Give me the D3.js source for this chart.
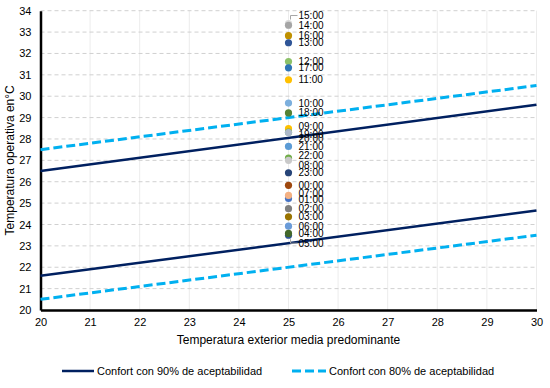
<!DOCTYPE html>
<html>
<head>
<meta charset="utf-8">
<script src="https://cdn.jsdelivr.net/npm/d3@7"></script>
<style>
  html, body { margin: 0; padding: 0; background: #fff; }
  svg { display: block; font-family: Arial, "Liberation Sans", sans-serif; }
</style>
</head>
<body>
<svg id="chart" width="550" height="388"></svg>
<script>
// ---- data ----
const xTicks = [20, 21, 22, 23, 24, 25, 26, 27, 28, 29, 30];
const yTicks = [20, 21, 22, 23, 24, 25, 26, 27, 28, 29, 30, 31, 32, 33, 34];

// comfort band lines (exterior temp -> operative temp)
const lineX = [20, 30];
const upper90 = [26.5, 29.6];
const lower90 = [21.6, 24.65];
const upper80 = [27.5, 30.5];
const lower80 = [20.5, 23.5];

// hourly points (all at the same exterior mean temperature)
const hourX = 25;
const hours = ["15:00","14:00","16:00","13:00","12:00","17:00","11:00","10:00","18:00",
               "09:00","20:00","19:00","21:00","22:00","08:00","23:00","00:00","01:00",
               "07:00","02:00","03:00","06:00","05:00","04:00"];
const hourTemps = [33.4, 33.32, 32.83, 32.5, 31.62, 31.33, 30.77, 29.68, 29.22,
                   28.48, 28.32, 28.3, 27.65, 27.1, 27.0, 26.42, 25.83, 25.22,
                   25.36, 24.74, 24.36, 23.92, 23.5, 23.58];
const hourColors = ["#D9D9D9","#A5A5A5","#BF9000","#2F5597","#8CC168","#2E75B6","#FFC000","#7CAFDD","#548235",
                    "#FFC000","#70AD47","#ADB9CA","#5B9BD5","#70AD47","#C9C9C9","#264478","#9E480E","#4472C4",
                    "#F4B183","#7F7F7F","#997300","#6A9BD8","#2F5597","#43682B"];
// small label nudges (px) to mimic the reference's label placement
const labelNudge = {"15:00": -8, "05:00": 8, "09:00": -2, "19:00": 1.5, "20:00": 6,
                    "22:00": -3, "08:00": 5, "07:00": -2, "01:00": 1};

const legendLabels = ["Confort con 90% de aceptabilidad", "Confort con 80% de aceptabilidad"];

// ---- layout ----
const svg = d3.select("#chart");
const m = {left: 40.5, right: 536.5, top: 10.7, bottom: 310};
const x = d3.scaleLinear().domain([20, 30]).range([m.left, m.right]);
const y = d3.scaleLinear().domain([20, 34]).range([m.bottom, m.top]);

// vertical grid
svg.append("g").selectAll("line").data(xTicks.slice(1)).join("line")
  .attr("x1", d => x(d)).attr("x2", d => x(d))
  .attr("y1", m.top).attr("y2", m.bottom)
  .attr("stroke", "#ececec").attr("stroke-width", 1);
// horizontal dashed grid
svg.append("g").selectAll("line").data(yTicks.slice(1)).join("line")
  .attr("x1", m.left).attr("x2", m.right)
  .attr("y1", d => y(d)).attr("y2", d => y(d))
  .attr("stroke", "#d0d0d0").attr("stroke-width", 1).attr("stroke-dasharray", "4,3");

// axes (no tick marks)
const xAxis = svg.append("g").attr("transform", `translate(0,${m.bottom})`)
  .call(d3.axisBottom(x).tickValues(xTicks).tickFormat(d3.format("d")).tickSize(0).tickPadding(8));
const yAxis = svg.append("g").attr("transform", `translate(${m.left},0)`)
  .call(d3.axisLeft(y).tickValues(yTicks).tickFormat(d3.format("d")).tickSize(0).tickPadding(9));
[xAxis, yAxis].forEach(a => {
  a.select(".domain").attr("stroke", "#000").attr("stroke-width", 2.5);
  a.selectAll("text").attr("font-size", 11).attr("fill", "#000")
   .attr("font-family", "Arial, 'Liberation Sans', sans-serif");
});

// comfort lines
const lineGen = d3.line().x(d => x(d[0])).y(d => y(d[1]));
function drawLine(vals, color, dash) {
  svg.append("path").datum(lineX.map((v, i) => [v, vals[i]]))
    .attr("d", lineGen).attr("fill", "none")
    .attr("stroke", color).attr("stroke-width", dash ? 3 : 2.5)
    .attr("stroke-dasharray", dash ? "9,4" : null);
}
drawLine(upper80, "#00B0F0", true);
drawLine(lower80, "#00B0F0", true);
drawLine(upper90, "#002060", false);
drawLine(lower90, "#002060", false);

// leader lines for displaced labels
const px = x(hourX);
function leader(idx) {
  const py = y(hourTemps[idx]);
  const ly = py + labelNudge[hours[idx]];
  svg.append("path")
    .attr("d", `M${px + 2},${py + (ly < py ? -4 : 4)} L${px + 2},${ly} L${px + 9},${ly}`)
    .attr("fill", "none").attr("stroke", "#a6a6a6").attr("stroke-width", 1);
}
leader(hours.indexOf("15:00"));
leader(hours.indexOf("05:00"));

// points
svg.append("g").selectAll("circle").data(hours).join("circle")
  .attr("cx", px).attr("cy", (d, i) => y(hourTemps[i]))
  .attr("r", 3.6).attr("fill", (d, i) => hourColors[i]);

// point labels
svg.append("g").selectAll("text").data(hours).join("text")
  .attr("x", px + 10).attr("y", (d, i) => y(hourTemps[i]) + (labelNudge[d] || 0))
  .attr("dy", "0.35em").attr("font-size", 10).attr("fill", "#000")
  .text(d => d);

// axis titles
svg.append("text").attr("x", (m.left + m.right) / 2).attr("y", 344)
  .attr("text-anchor", "middle").attr("font-size", 12).attr("fill", "#000")
  .text("Temperatura exterior media predominante");
svg.append("text").attr("transform", `translate(14,${(m.top + m.bottom) / 2}) rotate(-90)`)
  .attr("text-anchor", "middle").attr("font-size", 12).attr("fill", "#000")
  .text("Temperatura operativa en°C");

// legend
const legY = 371;
const leg = [{x0: 62, x1: 94, color: "#002060", dash: null, w: 2.5},
             {x0: 292, x1: 326, color: "#00B0F0", dash: "9,4", w: 3}];
leg.forEach((l, i) => {
  svg.append("line").attr("x1", l.x0).attr("x2", l.x1).attr("y1", legY).attr("y2", legY)
    .attr("stroke", l.color).attr("stroke-width", l.w).attr("stroke-dasharray", l.dash);
  svg.append("text").attr("x", l.x1 + 3).attr("y", legY).attr("dy", "0.35em")
    .attr("font-size", 11).attr("fill", "#000").text(legendLabels[i]);
});
</script>
</body>
</html>
